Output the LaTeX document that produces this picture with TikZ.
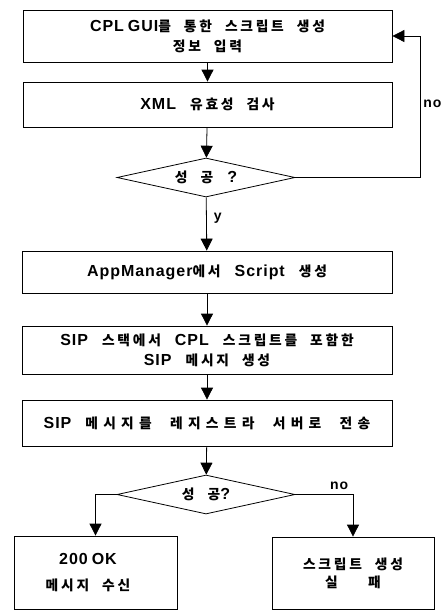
\documentclass[tikz,border=0pt]{standalone}
\usepackage{fontspec}
\setmainfont{Liberation Sans}[LetterSpace=6,WordSpace=2.6]
\newfontfamily\kr{Noto Sans CJK KR}[Scale=0.86,LetterSpace=20,WordSpace=2.2]
\usetikzlibrary{shapes.geometric,arrows.meta}
\tikzset{
  box/.style={draw,line width=0.8pt,align=center,inner sep=0pt,font=\fontsize{16}{20}\selectfont\bfseries},
  dia/.style={draw,diamond,aspect=4.5,line width=0.8pt,inner sep=0pt,minimum width=178pt,minimum height=39pt,font=\fontsize{16}{20}\selectfont\bfseries},
  arr/.style={line width=0.8pt,-{Triangle[width=12pt,length=12pt]}},
  lbl/.style={font=\fontsize{14}{15}\selectfont\bfseries,inner sep=1pt}
}
\begin{document}
\begin{tikzpicture}[x=1pt,y=-1pt]
\useasboundingbox (0,0) rectangle (444,611);
% main column
\node[box,minimum width=369pt,minimum height=52pt] (input) at (207.5,36) {CPL\hspace{0.25em}GUI{\kr 를 통한 스크립트 생성}\\{\kr 정보 입력}};
\node[box,minimum width=369pt,minimum height=45pt] (check) at (207.5,104.5) {XML {\kr 유효성 검사}};
\node[dia] (ok1) at (206,177.5) {{\kr 성 공} ?};
\node[box,minimum width=370pt,minimum height=42pt] (make) at (207,272) {AppManager{\kr 에서} Script {\kr 생성}};
\node[box,minimum width=370pt,minimum height=48pt] (sipmsg) at (207,350) {SIP {\kr 스택에서} CPL {\kr 스크립트를 포함한}\\SIP {\kr 메시지 생성}};
\node[box,minimum width=370pt,minimum height=46pt] (send) at (207,423) {SIP {\kr\addfontfeature{LetterSpace=38} 메시지를 레지스트라 서버로 전송}};
\node[dia] (ok2) at (206,494.5) {{\kr 성 공}?};
% results
\node[box,minimum width=163pt,minimum height=73pt] (recv) at (95.5,572.5) {200\hspace{0.25em}OK\hspace*{15pt}\\[6pt]{\kr 메시지 수신}\hspace*{15pt}};
\node[box,minimum width=162pt,minimum height=72pt] (fail) at (353,573) {{\kr 스크립트 생성}\\[-2pt]{\kr 실\hspace{2.2em}패}};
\coordinate (back) at (420,177.5);
\draw[arr] (input) -- (check);\draw[arr] (check) -- (ok1);
\draw[arr] (ok1) -- node[lbl,right=6pt,pos=0.4] {y} (make);
\draw[arr] (ok1.east) -- (back) |- (input.east) node[lbl,pos=0.26,right=2pt] {no};
\draw[arr] (make) -- (sipmsg);\draw[arr] (sipmsg) -- (send);\draw[arr] (send) -- (ok2);
\draw[arr] (ok2.west) -| (recv.north);
\draw[arr] (ok2.east) -| node[lbl,pos=0.38,above=3pt] {no} (fail.north);
\end{tikzpicture}
\end{document}
